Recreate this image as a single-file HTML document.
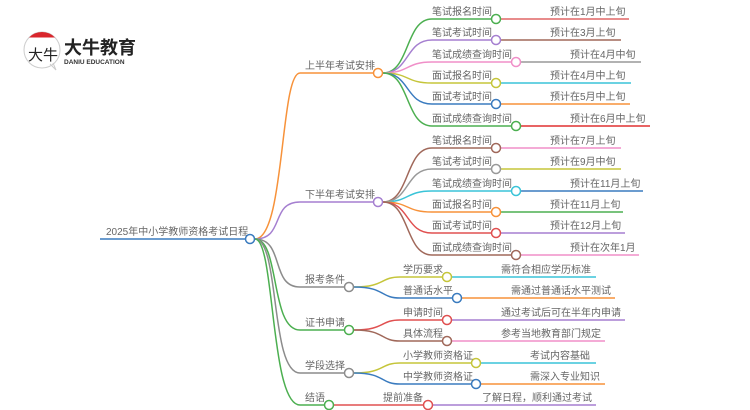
<!DOCTYPE html>
<html><head><meta charset="utf-8"><style>
html,body{margin:0;padding:0;background:#fff;width:750px;height:410px;overflow:hidden}
svg text{font-family:"Liberation Sans","Noto Sans CJK SC",sans-serif;font-size:10px;fill:#666}
</style></head><body>
<svg width="750" height="410" viewBox="0 0 750 410" xmlns="http://www.w3.org/2000/svg" fill="none" stroke-width="1.5">
<!-- logo -->
<circle cx="42" cy="50" r="18" stroke="#ccc" stroke-width="1" fill="#fff"/>
<path d="M29,37.5 A18,18 0 0 1 55,37.5 Z" fill="#d9262c" stroke="none"/>
<path d="M50,64 L56,70 L53,63" stroke="#ccc" stroke-width="1"/>
<text x="28" y="60" style="font-size:15px;fill:#222">大牛</text>
<text x="64" y="54" style="font-size:18px;fill:#222;font-weight:bold">大牛教育</text>
<text x="64" y="64" style="font-size:6.5px;fill:#333;font-weight:bold">DANIU EDUCATION</text>

<!-- root -->
<path d="M100,239 H245" stroke="#3a7bbf"/>
<text x="106" y="235">2025年中小学教师资格考试日程</text>

<!-- root to L1 -->
<path d="M255,239 C285,239 280,73 300,73 H373" stroke="#f7923a"/>
<path d="M255,239 C285,239 270,202 300,202 H373" stroke="#a57fd0"/>
<path d="M255,239 C285,239 270,287 300,287 H344" stroke="#8c8c8c"/>
<path d="M255,239 C280,239 270,330 300,330 H344" stroke="#4caf50"/>
<path d="M255,239 C280,239 270,373 300,373 H344" stroke="#8c8c8c"/>
<path d="M255,239 C275,239 270,405 300,405 H324" stroke="#4caf50"/>
<circle cx="250" cy="239" r="4.5" stroke="#3a7bbf" fill="#fff"/>

<text x="305" y="69">上半年考试安排</text>
<text x="305" y="198">下半年考试安排</text>
<text x="305" y="283">报考条件</text>
<text x="305" y="326">证书申请</text>
<text x="305" y="369">学段选择</text>
<text x="305" y="401">结语</text>

<!-- upper L2 -->
<g>
<path d="M383,73 C410,73 405,19 432,19 H491" stroke="#4caf50"/>
<path d="M383,73 C410,73 405,40 432,40 H491" stroke="#a57fd0"/>
<path d="M383,73 C410,73 405,62 432,62 H511" stroke="#f08fc8"/>
<path d="M383,73 C410,73 405,83 432,83 H491" stroke="#c5c53a"/>
<path d="M383,73 C410,73 405,104 432,104 H491" stroke="#3a7bbf"/>
<path d="M383,73 C410,73 405,126 432,126 H511" stroke="#4caf50"/>
<path d="M501,19 H629" stroke="#e06666"/>
<path d="M501,40 H621" stroke="#a0685a"/>
<path d="M521,62 H641" stroke="#999"/>
<path d="M501,83 H631" stroke="#3ac4d8"/>
<path d="M501,104 H630" stroke="#f7923a"/>
<path d="M521,126 H650" stroke="#e03030"/>
<circle cx="496" cy="19" r="4.5" stroke="#4caf50" fill="#fff"/>
<circle cx="496" cy="40" r="4.5" stroke="#a57fd0" fill="#fff"/>
<circle cx="516" cy="62" r="4.5" stroke="#f08fc8" fill="#fff"/>
<circle cx="496" cy="83" r="4.5" stroke="#c5c53a" fill="#fff"/>
<circle cx="496" cy="104" r="4.5" stroke="#3a7bbf" fill="#fff"/>
<circle cx="516" cy="126" r="4.5" stroke="#4caf50" fill="#fff"/>
<text x="432" y="15">笔试报名时间</text><text x="550" y="15">预计在1月中上旬</text>
<text x="432" y="36">笔试考试时间</text><text x="550" y="36">预计在3月上旬</text>
<text x="432" y="58">笔试成绩查询时间</text><text x="570" y="58">预计在4月中旬</text>
<text x="432" y="79">面试报名时间</text><text x="550" y="79">预计在4月中上旬</text>
<text x="432" y="100">面试考试时间</text><text x="550" y="100">预计在5月中上旬</text>
<text x="432" y="122">面试成绩查询时间</text><text x="570" y="122">预计在6月中上旬</text>
</g>
<circle cx="378" cy="73" r="4.5" stroke="#f7923a" fill="#fff"/>

<!-- lower L2 -->
<g>
<path d="M383,202 C410,202 405,148 432,148 H491" stroke="#a0685a"/>
<path d="M383,202 C410,202 405,169 432,169 H491" stroke="#999"/>
<path d="M383,202 C410,202 405,191 432,191 H511" stroke="#3ac4d8"/>
<path d="M383,202 C410,202 405,212 432,212 H491" stroke="#f7923a"/>
<path d="M383,202 C410,202 405,233 432,233 H491" stroke="#e05050"/>
<path d="M383,202 C410,202 405,255 432,255 H511" stroke="#a0685a"/>
<path d="M501,148 H621" stroke="#f08fc8"/>
<path d="M501,169 H621" stroke="#c5c53a"/>
<path d="M521,191 H643" stroke="#3a7bbf"/>
<path d="M501,212 H623" stroke="#4caf50"/>
<path d="M501,233 H625" stroke="#a57fd0"/>
<path d="M521,255 H639" stroke="#f08fc8"/>
<circle cx="496" cy="148" r="4.5" stroke="#a0685a" fill="#fff"/>
<circle cx="496" cy="169" r="4.5" stroke="#999" fill="#fff"/>
<circle cx="516" cy="191" r="4.5" stroke="#3ac4d8" fill="#fff"/>
<circle cx="496" cy="212" r="4.5" stroke="#f7923a" fill="#fff"/>
<circle cx="496" cy="233" r="4.5" stroke="#e05050" fill="#fff"/>
<circle cx="516" cy="255" r="4.5" stroke="#a0685a" fill="#fff"/>
<text x="432" y="144">笔试报名时间</text><text x="550" y="144">预计在7月上旬</text>
<text x="432" y="165">笔试考试时间</text><text x="550" y="165">预计在9月中旬</text>
<text x="432" y="187">笔试成绩查询时间</text><text x="570" y="187">预计在11月上旬</text>
<text x="432" y="208">面试报名时间</text><text x="550" y="208">预计在11月上旬</text>
<text x="432" y="229">面试考试时间</text><text x="550" y="229">预计在12月上旬</text>
<text x="432" y="251">面试成绩查询时间</text><text x="570" y="251">预计在次年1月</text>
</g>
<circle cx="378" cy="202" r="4.5" stroke="#a57fd0" fill="#fff"/>

<!-- 报考条件 -->
<path d="M354,287 C385,287 380,277 400,277 H442" stroke="#c5c53a"/>
<path d="M354,287 C385,287 380,298 400,298 H452" stroke="#3a7bbf"/>
<path d="M452,277 H596" stroke="#3ac4d8"/>
<path d="M462,298 H615" stroke="#f7923a"/>
<circle cx="447" cy="277" r="4.5" stroke="#c5c53a" fill="#fff"/>
<circle cx="457" cy="298" r="4.5" stroke="#3a7bbf" fill="#fff"/>
<circle cx="349" cy="287" r="4.5" stroke="#8c8c8c" fill="#fff"/>
<text x="403" y="273">学历要求</text><text x="501" y="273">需符合相应学历标准</text>
<text x="403" y="294">普通话水平</text><text x="511" y="294">需通过普通话水平测试</text>

<!-- 证书申请 -->
<path d="M354,330 C385,330 380,320 400,320 H442" stroke="#e05050"/>
<path d="M354,330 C385,330 380,341 400,341 H442" stroke="#a0685a"/>
<path d="M452,320 H625" stroke="#a57fd0"/>
<path d="M452,341 H605" stroke="#f08fc8"/>
<circle cx="447" cy="320" r="4.5" stroke="#e05050" fill="#fff"/>
<circle cx="447" cy="341" r="4.5" stroke="#a0685a" fill="#fff"/>
<circle cx="349" cy="330" r="4.5" stroke="#4caf50" fill="#fff"/>
<text x="403" y="316">申请时间</text><text x="501" y="316">通过考试后可在半年内申请</text>
<text x="403" y="337">具体流程</text><text x="501" y="337">参考当地教育部门规定</text>

<!-- 学段选择 -->
<path d="M354,373 C385,373 380,363 400,363 H471" stroke="#c5c53a"/>
<path d="M354,373 C385,373 380,384 400,384 H471" stroke="#3a7bbf"/>
<path d="M481,363 H596" stroke="#3ac4d8"/>
<path d="M481,384 H605" stroke="#f7923a"/>
<circle cx="476" cy="363" r="4.5" stroke="#c5c53a" fill="#fff"/>
<circle cx="476" cy="384" r="4.5" stroke="#3a7bbf" fill="#fff"/>
<circle cx="349" cy="373" r="4.5" stroke="#8c8c8c" fill="#fff"/>
<text x="403" y="359">小学教师资格证</text><text x="530" y="359">考试内容基础</text>
<text x="403" y="380">中学教师资格证</text><text x="530" y="380">需深入专业知识</text>

<!-- 结语 -->
<path d="M334,405 H423" stroke="#e05050"/>
<path d="M433,405 H596" stroke="#a57fd0"/>
<circle cx="428" cy="405" r="4.5" stroke="#e05050" fill="#fff"/>
<circle cx="329" cy="405" r="4.5" stroke="#4caf50" fill="#fff"/>
<text x="383" y="401">提前准备</text><text x="482" y="401">了解日程，顺利通过考试</text>
</svg>
</body></html>
